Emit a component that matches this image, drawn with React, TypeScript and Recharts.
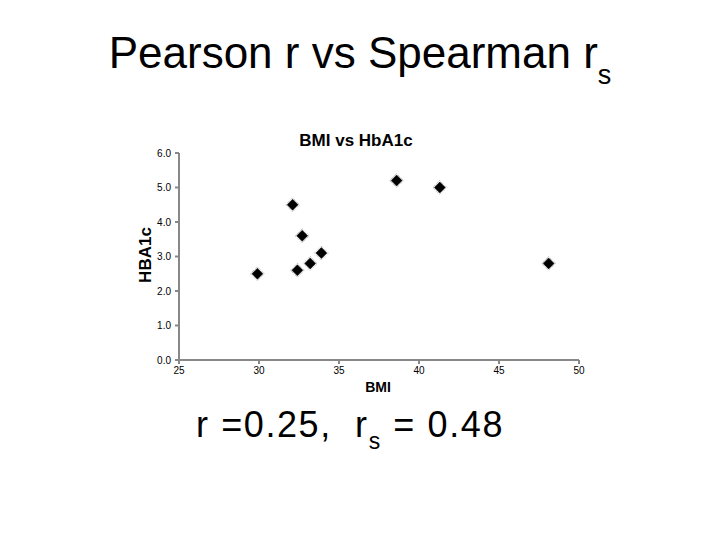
import React from 'react';
import { ScatterChart, Scatter, XAxis, YAxis } from 'recharts';

const bmi = [29.9, 32.1, 32.4, 32.7, 33.2, 33.9, 38.6, 41.3, 48.1];
const hba1c = [2.5, 4.5, 2.6, 3.6, 2.8, 3.1, 5.2, 5.0, 2.8];
const xTicks = [25, 30, 35, 40, 45, 50];
const yTicks = [0, 1, 2, 3, 4, 5, 6];

const data = bmi.map((b, i) => ({ bmi: b, hba1c: hba1c[i] }));

const FONT = '"Liberation Sans", Arial, sans-serif';

const Diamond = (props: any) => {
  const { cx, cy } = props;
  if (cx == null || cy == null) return null;
  const r = 5.5;
  const o = 7;
  return (
    <g>
      <polygon
        points={`${cx},${cy - o} ${cx + o},${cy} ${cx},${cy + o} ${cx - o},${cy}`}
        fill="none"
        stroke="#999"
        strokeWidth={0.8}
        strokeDasharray="1 1"
      />
      <polygon
        points={`${cx},${cy - r} ${cx + r},${cy} ${cx},${cy + r} ${cx - r},${cy}`}
        fill="#000"
        stroke="#000"
        strokeWidth={0.5}
      />
    </g>
  );
};

export default function App() {
  return (
    <div style={{ position: 'absolute', left: 0, top: 0, width: 720, height: 540, background: '#fff', fontFamily: FONT }}>
      <div style={{ position: 'absolute', left: 0, top: 25, width: 720, textAlign: 'center', fontSize: 44, lineHeight: '56px', color: '#000', whiteSpace: 'pre' }}>
        Pearson r vs Spearman r<span style={{ fontSize: 27, verticalAlign: '-0.6em' }}>s</span>
      </div>
      <div style={{ position: 'absolute', left: 256, top: 131, width: 200, textAlign: 'center', fontSize: 17, fontWeight: 'bold', lineHeight: '20px' }}>
        BMI vs HbA1c
      </div>
      <div style={{ position: 'absolute', left: 106, top: 245, width: 80, textAlign: 'center', fontSize: 17, fontWeight: 'bold', lineHeight: '20px', transform: 'rotate(-90deg)' }}>
        HBA1c
      </div>
      <div style={{ position: 'absolute', left: 328, top: 378, width: 100, textAlign: 'center', fontSize: 14, fontWeight: 'bold', lineHeight: '18px' }}>
        BMI
      </div>
      <div style={{ position: 'absolute', left: 100, top: 405, width: 500, textAlign: 'center', fontSize: 36, lineHeight: '40px', whiteSpace: 'pre', letterSpacing: 1.6 }}>
        {'r =0.25,  r'}<span style={{ fontSize: 23, verticalAlign: '-0.5em' }}>s</span>{' = 0.48'}
      </div>
      <div style={{ position: 'absolute', left: 0, top: 0 }}>
        <ScatterChart width={720} height={540} margin={{ top: 153, right: 141, bottom: 150, left: 119 }}>
          <XAxis
            type="number"
            dataKey="bmi"
            domain={[25, 50]}
            ticks={xTicks}
            height={30}
            axisLine={{ stroke: '#888', strokeWidth: 2 }}
            tickLine={{ stroke: '#888', strokeWidth: 2 }}
            tickSize={4}
            tickMargin={3}
            tick={{ fontSize: 10, fill: '#000', fontFamily: FONT }}
            interval={0}
          />
          <YAxis
            type="number"
            dataKey="hba1c"
            domain={[0, 6]}
            ticks={yTicks}
            width={60}
            axisLine={{ stroke: '#888', strokeWidth: 2 }}
            tickLine={{ stroke: '#888', strokeWidth: 2 }}
            tickSize={4}
            tickMargin={4}
            tickFormatter={(v: number) => v.toFixed(1)}
            tick={{ fontSize: 10, fill: '#000', fontFamily: FONT }}
            interval={0}
          />
          <Scatter data={data} shape={Diamond} isAnimationActive={false} />
        </ScatterChart>
      </div>
    </div>
  );
}
